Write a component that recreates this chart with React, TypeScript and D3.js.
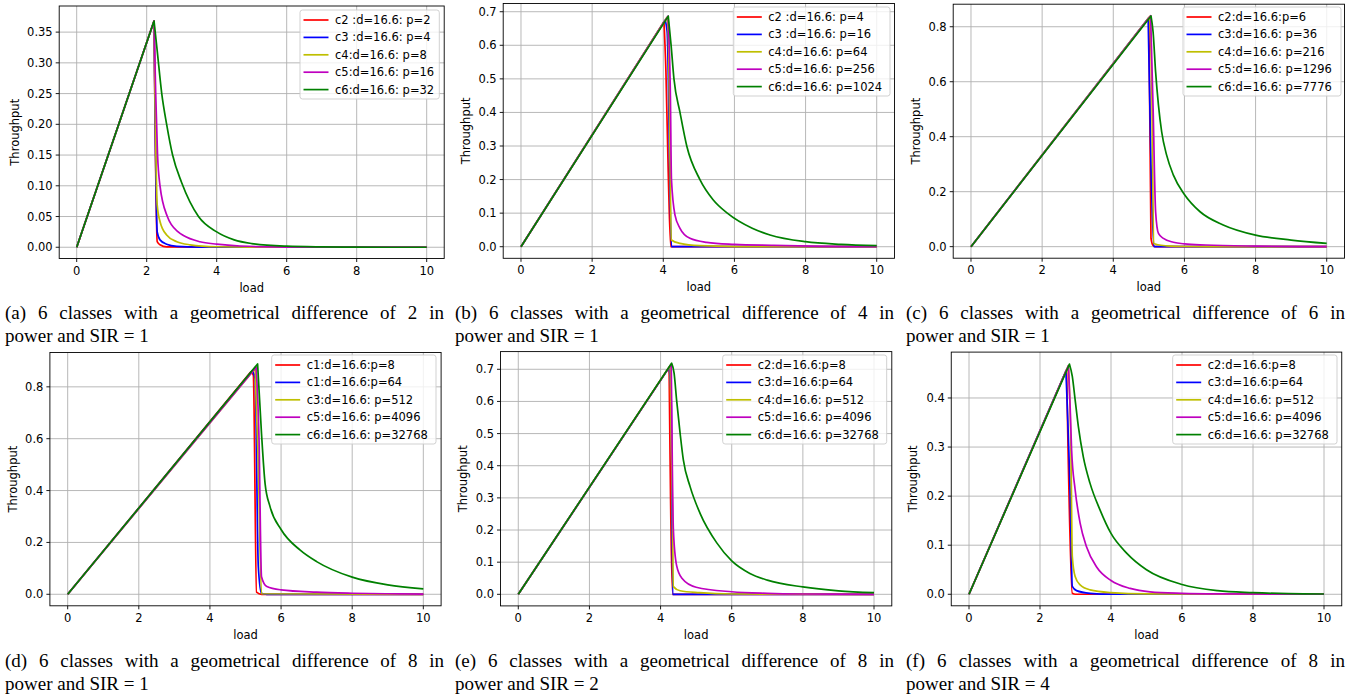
import React, { useLayoutEffect, useRef } from 'react';
import * as d3 from 'd3';

type Pt = [number, number];

// ---------- data ----------
const xTicks = [0, 2, 4, 6, 8, 10];
const yTicksA = [0, 0.05, 0.1, 0.15, 0.2, 0.25, 0.3, 0.35];
const yTicksB = [0, 0.1, 0.2, 0.3, 0.4, 0.5, 0.6, 0.7];
const yTicksC = [0, 0.2, 0.4, 0.6, 0.8];
const yTicksD = [0, 0.2, 0.4, 0.6, 0.8];
const yTicksE = [0, 0.1, 0.2, 0.3, 0.4, 0.5, 0.6, 0.7];
const yTicksF = [0, 0.1, 0.2, 0.3, 0.4];

const seriesColors = ['#ff0000', '#0000ff', '#bfbf00', '#bf00bf', '#008000'];

const labelsA = ['c2 :d=16.6: p=2', 'c3 :d=16.6: p=4', 'c4:d=16.6: p=8', 'c5:d=16.6: p=16', 'c6:d=16.6: p=32'];
const labelsB = ['c2 :d=16.6: p=4', 'c3 :d=16.6: p=16', 'c4:d=16.6: p=64', 'c5:d=16.6: p=256', 'c6:d=16.6: p=1024'];
const labelsC = ['c2:d=16.6:p=6', 'c3:d=16.6: p=36', 'c4:d=16.6: p=216', 'c5:d=16.6: p=1296', 'c6:d=16.6: p=7776'];
const labelsD = ['c1:d=16.6:p=8', 'c1:d=16.6:p=64', 'c3:d=16.6: p=512', 'c5:d=16.6: p=4096', 'c6:d=16.6: p=32768'];
const labelsE = ['c2:d=16.6:p=8', 'c3:d=16.6:p=64', 'c4:d=16.6: p=512', 'c5:d=16.6: p=4096', 'c6:d=16.6: p=32768'];
const labelsF = ['c2:d=16.6:p=8', 'c3:d=16.6:p=64', 'c4:d=16.6: p=512', 'c5:d=16.6: p=4096', 'c6:d=16.6: p=32768'];

// panel (a)
const a_red: Pt[] = [[0, 0], [2.21, 0.368], [2.3, 0.009], [2.38, 0.004], [2.57, 0.0005], [10, 0]];
const a_blue: Pt[] = [[0, 0], [2.21, 0.368], [2.3, 0.025], [2.38, 0.012], [2.57, 0.005], [2.86, 0.0015], [3.5, 0.0002], [10, 0]];
const a_yellow: Pt[] = [[0, 0], [2.21, 0.368], [2.3, 0.069], [2.38, 0.042], [2.57, 0.02], [2.86, 0.009], [3.24, 0.004], [4.0, 0.0008], [5, 0.0001], [10, 0]];
const a_magenta: Pt[] = [[0, 0], [2.21, 0.368], [2.257, 0.25], [2.31, 0.15], [2.38, 0.1], [2.59, 0.05], [2.9, 0.025], [3.05, 0.019], [3.52, 0.009], [4.0, 0.005], [4.67, 0.002], [6, 0.0003], [10, 0]];
const a_green: Pt[] = [[0, 0], [2.21, 0.368], [2.3, 0.32], [2.43, 0.25], [2.57, 0.2], [2.74, 0.15], [3.0, 0.105], [3.48, 0.05], [4.0, 0.025], [4.5, 0.012], [5, 0.006], [6, 0.0017], [7, 0.0005], [8, 0.0001], [10, 0]];

// panel (b)
const b_red: Pt[] = [[0, 0], [4.02, 0.67], [4.075, 0.52], [4.14, 0.22], [4.21, 0], [10, 0]];
const b_blue: Pt[] = [[0, 0], [4.05, 0.675], [4.11, 0.64], [4.23, 0], [10, 0]];
const b_yellow: Pt[] = [[0, 0], [4.1, 0.683], [4.14, 0.64], [4.23, 0.02], [4.47, 0.01], [5.03, 0.003], [6, 0.0005], [10, 0]];
const b_magenta: Pt[] = [[0, 0], [4.13, 0.687], [4.2, 0.45], [4.23, 0.2], [4.33, 0.094], [4.47, 0.055], [4.75, 0.025], [5.22, 0.013], [6, 0.007], [7.1, 0.004], [8.5, 0.001], [10, 0]];
const b_green: Pt[] = [[0, 0], [4.14, 0.687], [4.22, 0.6], [4.3, 0.5], [4.47, 0.4], [4.66, 0.3], [5.03, 0.2], [5.4, 0.14], [5.8, 0.1], [6.5, 0.055], [7, 0.035], [8, 0.015], [9, 0.007], [10, 0.003]];

// panel (c)
const c_red: Pt[] = [[0, 0], [5.0, 0.833], [5.06, 0.03], [5.12, 0.004], [5.2, 0], [10, 0]];
const c_blue: Pt[] = [[0, 0], [4.98, 0.83], [5.06, 0.3], [5.14, 0], [10, 0]];
const c_yellow: Pt[] = [[0, 0], [5.03, 0.838], [5.08, 0.6], [5.14, 0.012], [5.25, 0.007], [5.5, 0.003], [6, 0.0005], [10, 0]];
const c_magenta: Pt[] = [[0, 0], [5.05, 0.84], [5.12, 0.5], [5.19, 0.127], [5.27, 0.048], [5.41, 0.03], [5.69, 0.016], [6, 0.01], [6.6, 0.006], [8, 0.002], [10, 0]];
const c_green: Pt[] = [[0, 0], [5.06, 0.839], [5.12, 0.78], [5.19, 0.636], [5.27, 0.515], [5.36, 0.418], [5.5, 0.333], [5.69, 0.26], [6, 0.19], [6.44, 0.127], [7.09, 0.079], [8, 0.042], [9, 0.024], [10, 0.012]];

// panel (d)
const d_red: Pt[] = [[0, 0], [5.15, 0.858], [5.22, 0.845], [5.31, 0.008], [5.45, 0], [10, 0]];
const d_blue: Pt[] = [[0, 0], [5.19, 0.862], [5.27, 0.832], [5.36, 0.107], [5.45, 0.004], [5.6, 0], [10, 0]];
const d_yellow: Pt[] = [[0, 0], [5.27, 0.871], [5.36, 0.5], [5.45, 0.002], [10, 0]];
const d_magenta: Pt[] = [[0, 0], [5.3, 0.876], [5.38, 0.6], [5.45, 0.068], [5.6, 0.03], [6, 0.017], [7, 0.008], [8, 0.004], [9, 0.002], [10, 0.001]];
const d_green: Pt[] = [[0, 0], [5.34, 0.888], [5.45, 0.62], [5.55, 0.428], [5.69, 0.338], [6, 0.25], [6.53, 0.171], [7, 0.126], [8, 0.066], [9, 0.036], [10, 0.021]];

// panel (e)
const e_red: Pt[] = [[0, 0], [4.24, 0.706], [4.34, 0], [10, 0]];
const e_blue: Pt[] = [[0, 0], [4.24, 0.706], [4.3, 0.6], [4.34, 0], [10, 0]];
const e_yellow: Pt[] = [[0, 0], [4.27, 0.712], [4.33, 0.3], [4.36, 0.024], [4.55, 0.011], [5.1, 0.005], [6, 0.001], [10, 0]];
const e_magenta: Pt[] = [[0, 0], [4.3, 0.716], [4.33, 0.4], [4.36, 0.2], [4.45, 0.09], [4.6, 0.05], [5.0, 0.022], [6, 0.008], [7, 0.003], [8, 0.001], [10, 0]];
const e_green: Pt[] = [[0, 0], [4.31, 0.719], [4.38, 0.688], [4.45, 0.605], [4.55, 0.5], [4.64, 0.418], [4.83, 0.335], [5.11, 0.252], [5.58, 0.16], [6, 0.104], [6.51, 0.065], [7, 0.044], [8, 0.023], [9, 0.011], [10, 0.005]];

// panel (f)
const f_red: Pt[] = [[0, 0], [2.75, 0.458], [2.91, 0.002], [3.0, 0], [10, 0]];
const f_blue: Pt[] = [[0, 0], [2.73, 0.455], [2.85, 0.2], [2.91, 0.016], [3.03, 0.0075], [3.41, 0.002], [4, 0], [10, 0]];
const f_yellow: Pt[] = [[0, 0], [2.8, 0.466], [2.87, 0.3], [2.91, 0.077], [2.99, 0.036], [3.13, 0.019], [3.41, 0.009], [4, 0.0034], [5, 0.0008], [10, 0]];
const f_magenta: Pt[] = [[0, 0], [2.8, 0.466], [2.85, 0.38], [2.89, 0.294], [2.99, 0.213], [3.13, 0.145], [3.31, 0.097], [3.6, 0.055], [4, 0.028], [4.54, 0.012], [5.1, 0.005], [6, 0.002], [7, 0.0008], [10, 0]];
const f_green: Pt[] = [[0, 0], [2.83, 0.469], [2.91, 0.444], [2.99, 0.396], [3.08, 0.342], [3.22, 0.28], [3.41, 0.226], [3.69, 0.172], [4, 0.124], [4.44, 0.084], [5, 0.05], [6, 0.02], [7, 0.0075], [8, 0.0034], [9, 0.0012], [10, 0.0005]];

const captionsTop = [
  ['(a) 6 classes with a geometrical difference of 2 in', 'power and SIR = 1'],
  ['(b) 6 classes with a geometrical difference of 4 in', 'power and SIR = 1'],
  ['(c) 6 classes with a geometrical difference of 6 in', 'power and SIR = 1'],
];
const captionsBottom = [
  ['(d) 6 classes with a geometrical difference of 8 in', 'power and SIR = 1'],
  ['(e) 6 classes with a geometrical difference of 8 in', 'power and SIR = 2'],
  ['(f) 6 classes with a geometrical difference of 8 in', 'power and SIR = 4'],
];

// ---------- layout ----------
interface PanelCfg {
  left: number; right: number; top: number; bottom: number;
  yDomain: [number, number];
  yTicks: number[];
  yFmt: string;
  series: Pt[][];
  labels: string[];
  legend: { x: number; y: number; w: number };
  ylabX: number;
}

const panels: PanelCfg[] = [
  { left: 59.2, right: 444.2, top: 6, bottom: 258.5, yDomain: [-0.0183, 0.3925], yTicks: yTicksA, yFmt: '.2f',
    series: [a_red, a_blue, a_yellow, a_magenta, a_green], labels: labelsA, legend: { x: 300, y: 10, w: 139.3 }, ylabX: 15 },
  { left: 503.2, right: 894.5, top: 3.5, bottom: 258.3, yDomain: [-0.0345, 0.7245], yTicks: yTicksB, yFmt: '.1f',
    series: [b_red, b_blue, b_yellow, b_magenta, b_green], labels: labelsB, legend: { x: 733.3, y: 7, w: 156.7 }, ylabX: 466 },
  { left: 953.2, right: 1344.5, top: 4.2, bottom: 258.2, yDomain: [-0.042, 0.882], yTicks: yTicksC, yFmt: '.1f',
    series: [c_red, c_blue, c_yellow, c_magenta, c_green], labels: labelsC, legend: { x: 1183, y: 7, w: 158 }, ylabX: 916 },
  { left: 49.9, right: 441.1, top: 352.5, bottom: 605.8, yDomain: [-0.0444, 0.9324], yTicks: yTicksD, yFmt: '.1f',
    series: [d_red, d_blue, d_yellow, d_magenta, d_green], labels: labelsD, legend: { x: 271.7, y: 355, w: 164.3 }, ylabX: 12.7 },
  { left: 500.5, right: 891.8, top: 351.6, bottom: 605.9, yDomain: [-0.036, 0.755], yTicks: yTicksE, yFmt: '.1f',
    series: [e_red, e_blue, e_yellow, e_magenta, e_green], labels: labelsE, legend: { x: 722.7, y: 355, w: 164 }, ylabX: 462.7 },
  { left: 951.25, right: 1341.75, top: 352.1, bottom: 605.8, yDomain: [-0.0235, 0.4935], yTicks: yTicksF, yFmt: '.1f',
    series: [f_red, f_blue, f_yellow, f_magenta, f_green], labels: labelsF, legend: { x: 1172.7, y: 355, w: 164.3 }, ylabX: 912.7 },
];

const FONT = "'DejaVu Sans', sans-serif";
const FS = 11.5;

function Panel({ p }: { p: PanelCfg }) {
  const x = d3.scaleLinear().domain([-0.5, 10.5]).range([p.left, p.right]);
  const y = d3.scaleLinear().domain(p.yDomain).range([p.bottom, p.top]);
  const riseLine = d3.line<Pt>().x(d => x(d[0])).y(d => y(d[1]));
  const decayLine = d3.line<Pt>().x(d => x(d[0])).y(d => y(d[1])).curve(d3.curveMonotoneX);
  const fmt = d3.format(p.yFmt);
  const legH = 89;
  const rowStep = 17.4;
  const row0 = 10;
  const pathFor = (s: Pt[]) => {
    const peak = d3.maxIndex(s, d => d[1]);
    return (riseLine(s.slice(0, peak + 1)) || '') + (decayLine(s.slice(peak)) || '').replace(/^M[^A-Za-z]*/, (m) => 'L' + m.slice(1));
  };
  return (
    <g>
      {xTicks.map(t => (
        <line key={'gx' + t} x1={x(t)} x2={x(t)} y1={p.top} y2={p.bottom} stroke="#b0b0b0" strokeWidth={0.9} />
      ))}
      {p.yTicks.map(t => (
        <line key={'gy' + t} x1={p.left} x2={p.right} y1={y(t)} y2={y(t)} stroke="#b0b0b0" strokeWidth={0.9} />
      ))}
      {p.series.map((s, i) => (
        <path key={'s' + i} d={pathFor(s)} fill="none" stroke={seriesColors[i]} strokeWidth={1.7} strokeLinejoin="round" />
      ))}
      <rect x={p.left} y={p.top} width={p.right - p.left} height={p.bottom - p.top} fill="none" stroke="#000" strokeWidth={0.9} />
      {xTicks.map(t => (
        <g key={'xt' + t}>
          <line x1={x(t)} x2={x(t)} y1={p.bottom} y2={p.bottom + 3.5} stroke="#000" strokeWidth={0.9} />
          <text x={x(t)} y={p.bottom + 12} textAnchor="middle" dominantBaseline="central" fontFamily={FONT} fontSize={FS} fill="#000">{t}</text>
        </g>
      ))}
      {p.yTicks.map(t => (
        <g key={'yt' + t}>
          <line x1={p.left - 3.5} x2={p.left} y1={y(t)} y2={y(t)} stroke="#000" strokeWidth={0.9} />
          <text x={p.left - 6.5} y={y(t)} textAnchor="end" dominantBaseline="central" fontFamily={FONT} fontSize={FS} fill="#000">{fmt(t)}</text>
        </g>
      ))}
      <text x={(p.left + p.right) / 2} y={p.bottom + 29} textAnchor="middle" dominantBaseline="central" fontFamily={FONT} fontSize={FS} fill="#000">load</text>
      <text transform={`translate(${p.ylabX},${(p.top + p.bottom) / 2}) rotate(-90)`} textAnchor="middle" dominantBaseline="central" fontFamily={FONT} fontSize={FS} fill="#000">Throughput</text>
      <rect x={p.legend.x} y={p.legend.y} width={p.legend.w} height={legH} rx={2.5} fill="#fff" fillOpacity={0.8} stroke="#cccccc" strokeWidth={0.9} />
      {p.labels.map((lab, i) => {
        const cy = p.legend.y + row0 + i * rowStep;
        return (
          <g key={'lg' + i}>
            <line x1={p.legend.x + 3.5} x2={p.legend.x + 28.5} y1={cy} y2={cy} stroke={seriesColors[i]} strokeWidth={1.7} />
            <text x={p.legend.x + 35} y={cy} dominantBaseline="central" fontFamily={FONT} fontSize={FS} fill="#000">{lab}</text>
          </g>
        );
      })}
    </g>
  );
}

const captionX = [5, 455, 906];
const CAPTION_W = 439;
const SERIF = "'Liberation Serif', 'Times New Roman', serif";

function JustifiedText({ x, y, text, width }: { x: number; y: number; text: string; width: number }) {
  const ref = useRef<SVGTextElement>(null);
  useLayoutEffect(() => {
    const el = ref.current;
    if (!el) return;
    el.setAttribute('word-spacing', '0');
    const natural = el.getComputedTextLength();
    const gaps = text.split(' ').length - 1;
    if (gaps > 0 && natural < width) {
      el.setAttribute('word-spacing', String((width - natural) / gaps));
    }
  }, [text, width]);
  return <text ref={ref} x={x} y={y} fontFamily={SERIF} fontSize={19} fill="#000">{text}</text>;
}

export default function App() {
  return (
    <svg width={1357} height={700} style={{ position: 'absolute', left: 0, top: 0, background: '#fff' }}>
      <rect x={0} y={0} width={1357} height={700} fill="#fff" />
      {panels.map((p, i) => <Panel key={i} p={p} />)}
      {captionsTop.map((c, i) => (
        <g key={'ct' + i}>
          <JustifiedText x={captionX[i]} y={318.5} text={c[0]} width={CAPTION_W} />
          <text x={captionX[i]} y={342} fontFamily={SERIF} fontSize={19} fill="#000">{c[1]}</text>
        </g>
      ))}
      {captionsBottom.map((c, i) => (
        <g key={'cb' + i}>
          <JustifiedText x={captionX[i]} y={667} text={c[0]} width={CAPTION_W} />
          <text x={captionX[i]} y={690} fontFamily={SERIF} fontSize={19} fill="#000">{c[1]}</text>
        </g>
      ))}
    </svg>
  );
}
